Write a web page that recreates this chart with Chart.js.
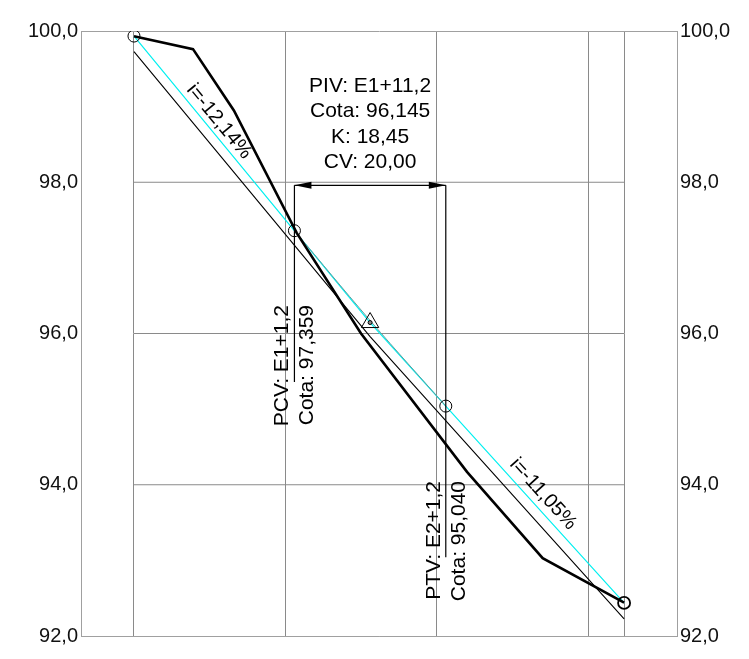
<!DOCTYPE html>
<html><head><meta charset="utf-8">
<script src="https://cdn.jsdelivr.net/npm/chart.js@4"></script>
<style>html,body{margin:0;padding:0;background:#fff}#wrap{width:749px;height:659px}</style>
</head><body><div id="wrap"><canvas id="c" width="749" height="659"></canvas></div>
<script>
// ---- data ----
const yTicks = [92, 94, 96, 98, 100];
const stations = [0, 20, 40, 60, 64.76];
const gridElevs = [94, 96, 98];
const groundX = [0, 7.8, 13.2, 21.5, 30, 44, 54, 64.76];
const groundY = [99.93, 99.76, 98.95, 97.33, 96.00, 94.17, 93.03, 92.44];
const gradeX = [0, 31.2, 64.76];
const gradeY = [99.933, 96.145, 92.437];
const curveX = [21.2, 31.2, 41.2];
const curveY = [97.359, 96.172, 95.040];
const refX = [0, 31.2, 64.76];
const refY = [99.726, 95.96, 92.225];
const keyX = [0, 21.2, 41.2, 64.76];
const keyY = [99.933, 97.359, 95.040, 92.437];
const pivX = 31.2, pivY = 96.145;
const dimY = 97.96;
const pcvLineEnd = 95.36, ptvLineEnd = 93.04;
const slopeLabels = ['i=-12,14%', 'i=-11,05%'];
const slopeLabelX = [11.23, 54.05];
const slopeLabelY = [98.803, 93.878];
const pivLines = ['PIV: E1+11,2', 'Cota: 96,145', 'K: 18,45', 'CV: 20,00'];
const pivTextTop = 99.274;
const pcvLabels = ['PCV: E1+1,2', 'Cota: 97,359'];
const ptvLabels = ['PTV: E2+1,2', 'Cota: 95,040'];
const pcvTextTop = 96.377, ptvTextTop = 94.05;

const pts = (xs, ys) => xs.map((v, i) => ({x: v, y: ys[i]}));
const GRID = '#8a8a8a', FRAME = '#a0a0a0';
const FONT = '"Liberation Sans", Arial, sans-serif';

const line = (data, color, w, extra) => Object.assign({
  data, borderColor: color, borderWidth: w, pointRadius: 0, showLine: true,
  fill: false, tension: 0, backgroundColor: 'transparent'
}, extra || {});

const datasets = [
  {data: pts(keyX, keyY), showLine: false, pointStyle: 'circle', pointRadius: 6,
   pointBorderColor: '#000', pointBackgroundColor: 'rgba(0,0,0,0)',
   pointBorderWidth: [1, 1, 1, 1.8], borderColor: '#000'},
  {data: [{x: pivX, y: pivY}], showLine: false, pointStyle: 'triangle', pointRadius: 10,
   pointBorderColor: '#000', pointBackgroundColor: 'rgba(0,0,0,0)', pointBorderWidth: 1},
  {data: [{x: pivX, y: pivY}], showLine: false, pointStyle: 'circle', pointRadius: 2,
   pointBorderColor: '#000', pointBackgroundColor: '#888', pointBorderWidth: 1},
  line([{x: keyX[1], y: dimY}, {x: keyX[2], y: dimY}], '#000', 1.2),
  line([{x: keyX[1], y: dimY}, {x: keyX[1], y: pcvLineEnd}], '#000', 1.2),
  line([{x: keyX[2], y: dimY}, {x: keyX[2], y: ptvLineEnd}], '#000', 1.2),
  line(pts(groundX, groundY), '#000', 2.6),
  line(pts(curveX, curveY), '#5e9c9c', 1, {tension: 0.4}),
  line(pts(gradeX, gradeY), '#00f0f0', 1.2),
  line(pts(refX, refY), '#000', 1.1),
];
gridElevs.forEach(e => datasets.push(line([{x: stations[0], y: e}, {x: stations[stations.length - 1], y: e}], GRID, 1)));

const fmt = v => Number(v).toFixed(1).replace('.', ',');

const annot = {
  id: 'annot',
  afterDatasetsDraw(chart) {
    const {ctx} = chart;
    const x = chart.scales.x, y = chart.scales.y;
    ctx.save();
    ctx.fillStyle = '#000';
    const ay = y.getPixelForValue(dimY);
    const a1 = x.getPixelForValue(keyX[1]), a2 = x.getPixelForValue(keyX[2]);
    const arrow = (tx, dir) => {
      ctx.beginPath();
      ctx.moveTo(tx, ay);
      ctx.lineTo(tx + dir * 17, ay - 3.5);
      ctx.lineTo(tx + dir * 17, ay + 3.5);
      ctx.closePath();
      ctx.fill();
    };
    arrow(a1, 1); arrow(a2, -1);

    ctx.font = '20px ' + FONT;
    ctx.textAlign = 'center';
    ctx.textBaseline = 'middle';
    const segAngle = (i0, i1) => Math.atan2(
      y.getPixelForValue(gradeY[i1]) - y.getPixelForValue(gradeY[i0]),
      x.getPixelForValue(gradeX[i1]) - x.getPixelForValue(gradeX[i0]));
    const angs = [segAngle(0, 1), segAngle(1, 2)];
    slopeLabels.forEach((t, i) => {
      ctx.save();
      ctx.translate(x.getPixelForValue(slopeLabelX[i]), y.getPixelForValue(slopeLabelY[i]));
      ctx.rotate(angs[i]);
      ctx.fillText(t, 0, 0);
      ctx.restore();
    });

    ctx.font = '21px ' + FONT;
    const px = x.getPixelForValue(pivX);
    const py0 = y.getPixelForValue(pivTextTop);
    pivLines.forEach((t, i) => ctx.fillText(t, px, py0 + i * 25.5));

    ctx.textAlign = 'right';
    ctx.textBaseline = 'alphabetic';
    const vtext = (sx, topY, labels) => {
      const lx = x.getPixelForValue(sx), ty = y.getPixelForValue(topY);
      [[labels[0], -6], [labels[1], 19]].forEach(([t, off]) => {
        ctx.save();
        ctx.translate(lx + off, ty);
        ctx.rotate(-Math.PI / 2);
        ctx.fillText(t, 0, 0);
        ctx.restore();
      });
    };
    vtext(keyX[1], pcvTextTop, pcvLabels);
    vtext(keyX[2], ptvTextTop, ptvLabels);
    ctx.restore();
  }
};

const yCommon = {
  type: 'linear', min: 92, max: 100,
  afterBuildTicks: s => { s.ticks = yTicks.map(v => ({value: v})); },
  ticks: {callback: fmt, color: '#111', font: {family: FONT, size: 20}, padding: 3},
  border: {display: true, color: FRAME, width: 1},
};

new Chart(document.getElementById('c'), {
  type: 'scatter',
  data: {datasets},
  options: {
    responsive: false, animation: false, devicePixelRatio: 1,
    layout: {padding: {top: 31, left: 0, right: 0, bottom: 0}},
    plugins: {legend: {display: false}, tooltip: {enabled: false}},
    scales: {
      x: {
        type: 'linear', min: -7, max: 71.75,
        afterBuildTicks: s => { s.ticks = stations.map(v => ({value: v})); },
        ticks: {display: false},
        grid: {color: GRID, lineWidth: 1, drawTicks: false},
        border: {display: true, color: FRAME, width: 1},
        afterFit: s => { s.height = 23; }
      },
      y: Object.assign({}, yCommon, {
        position: 'left',
        grid: {drawTicks: false, lineWidth: 1,
               color: c => (c.tick && (c.tick.value === 92 || c.tick.value === 100)) ? FRAME : 'rgba(0,0,0,0)'},
        afterFit: s => { s.width = 81; }
      }),
      y2: Object.assign({}, yCommon, {
        position: 'right',
        grid: {display: false, drawTicks: false},
        afterFit: s => { s.width = 72; }
      })
    }
  },
  plugins: [annot]
});
</script>
</body></html>
